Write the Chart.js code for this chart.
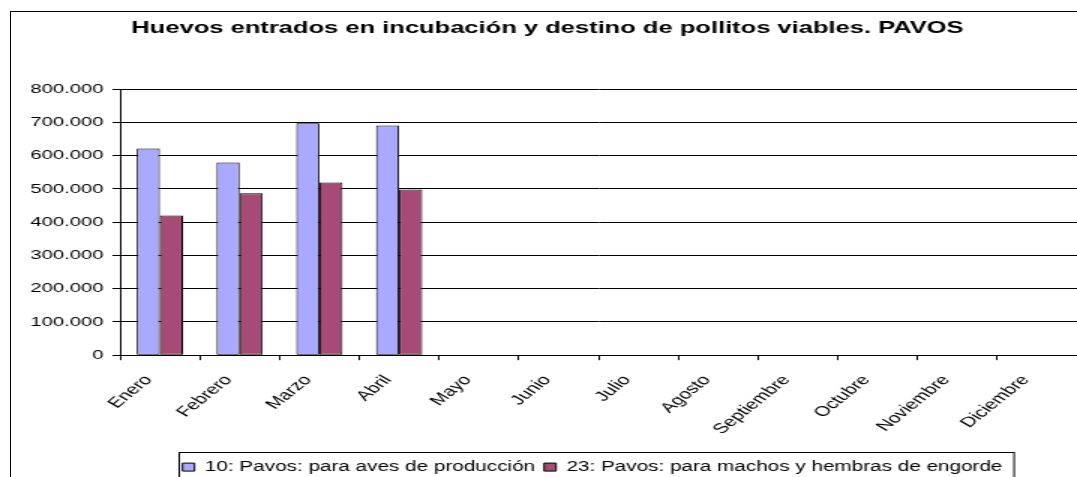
<!DOCTYPE html>
<html>
<head>
<meta charset="utf-8">
<script src="https://cdn.jsdelivr.net/npm/chart.js@4.4.1/dist/chart.umd.min.js"></script>
<style>
  html, body { margin: 0; padding: 0; background: #fff; overflow: hidden; }
  #wrap { position: relative; width: 1077px; height: 477px; }
  #frame { position: absolute; left: 10px; top: 11px; width: 1100px; height: 520px; border: 1px solid #000; }
  #chart { position: absolute; left: 0; top: 0; }
</style>
</head>
<body>
<div id="wrap">
  <div id="frame"></div>
  <!-- drawn narrow and stretched sideways, like the original picture -->
  <canvas id="chart" width="718" height="477" style="width:1077px;height:477px"></canvas>
</div>
<script>
const titulo = "Huevos entrados en incubación y destino de pollitos viables. PAVOS";
const meses = ["Enero", "Febrero", "Marzo", "Abril", "Mayo", "Junio", "Julio",
  "Agosto", "Septiembre", "Octubre", "Noviembre", "Diciembre"];
const serieProduccion = "10: Pavos: para aves de producción";
const serieEngorde = "23: Pavos: para machos y hembras de engorde";
const produccion = [621000, 579000, 697000, 690000, null, null, null, null, null, null, null, null];
const engorde = [420000, 487000, 519000, 498000, null, null, null, null, null, null, null, null];
const yMin = 0;
const yMax = 800000;
const yPaso = 100000;

const fuente = "'Liberation Sans', Arial, sans-serif";

function conPuntos(v) {
  return String(v).replace(/\B(?=(\d{3})+(?!\d))/g, ".");
}

// moves the legend a bit right and draws the box round it
const cajaLeyenda = {
  id: "cajaLeyenda",
  afterLayout(chart) {
    const lg = chart.legend;
    lg.left += 30;
    lg.right += 30;
  },
  afterDraw(chart) {
    const lg = chart.legend;
    const pad = lg.options.labels.padding;
    const ancho = lg.lineWidths[0];
    const x0 = (lg.left + pad + lg.right - ancho) / 2;
    const ctx = chart.ctx;
    ctx.save();
    ctx.strokeStyle = "#000";
    ctx.lineWidth = 1;
    ctx.strokeRect(Math.round(x0 - 3) + 0.5, Math.round(lg.top - 2) + 0.5, ancho - pad + 10, 40);
    ctx.restore();
  }
};

const ctx = document.getElementById("chart").getContext("2d");

const grafico = new Chart(ctx, {
  type: "bar",
  data: {
    labels: meses,
    datasets: [{
      label: serieProduccion,
      data: produccion,
      backgroundColor: "#A9A9FF",
      borderColor: "#000",
      borderWidth: 1,
      borderSkipped: false
    }, {
      label: serieEngorde,
      data: engorde,
      backgroundColor: "#A64A76",
      borderColor: "#000",
      borderWidth: 1,
      borderSkipped: false
    }]
  },
  options: {
    responsive: false,
    devicePixelRatio: 1,
    animation: false,
    datasets: {
      bar: { categoryPercentage: 0.58, barPercentage: 1 }
    },
    layout: {
      padding: { left: 12, right: 0, top: 0, bottom: -7 }
    },
    plugins: {
      title: {
        display: true,
        text: titulo,
        color: "#000",
        font: { family: fuente, size: 17, weight: "bold" },
        padding: { top: 18, bottom: 50.6 }
      },
      legend: {
        position: "bottom",
        labels: {
          color: "#000",
          font: { family: fuente, size: 13.8 },
          boxWidth: 8,
          boxHeight: 8,
          padding: 6
        }
      },
      tooltip: { enabled: false }
    },
    scales: {
      x: {
        grid: { drawOnChartArea: false, color: "#000", tickLength: 5 },
        border: { color: "#000" },
        ticks: {
          color: "#000",
          font: { family: fuente, size: 14 },
          minRotation: 50,
          maxRotation: 50,
          autoSkip: false,
          padding: 3,
          // trailing spaces pull the slanted name a little down and left, as in the original
          callback: (v, i) => meses[i] + "   "
        },
        afterFit(scale) { scale.height = 99; }
      },
      y: {
        min: yMin,
        max: yMax,
        grid: { color: "#000", tickLength: 5 },
        border: { color: "#000" },
        ticks: {
          stepSize: yPaso,
          color: "#000",
          font: { family: fuente, size: 13.5 },
          padding: 6,
          callback: (v) => conPuntos(v)
        },
        afterFit(scale) { scale.width = 68; }
      }
    }
  },
  plugins: [cajaLeyenda]
});
</script>
</body>
</html>
